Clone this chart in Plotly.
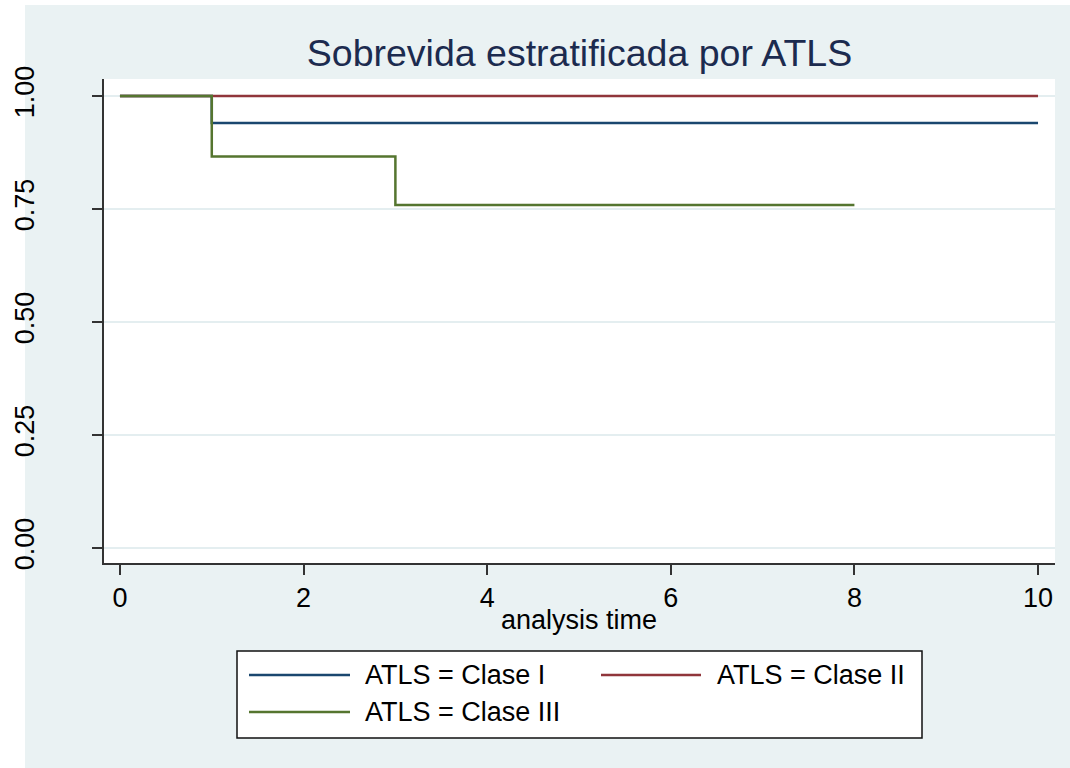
import plotly.graph_objects as go

# ---- data ----
time_I = [0, 1, 10]
surv_I = [1.0, 0.94, 0.94]
time_II = [0, 10]
surv_II = [1.0, 1.0]
time_III = [0, 1, 3, 8]
surv_III = [1.0, 0.866, 0.759, 0.759]
series_names = ["ATLS = Clase I", "ATLS = Clase II", "ATLS = Clase III"]
series_colors = ["#1a476f", "#90353b", "#55752f"]
x_ticks = [0, 2, 4, 6, 8, 10]
y_ticks = [0, 0.25, 0.5, 0.75, 1.0]
y_ticklabels = ["0.00", "0.25", "0.50", "0.75", "1.00"]
title_text = "Sobrevida estratificada por ATLS"
x_title = "analysis time"

FONT = "Liberation Sans, Arial, sans-serif"
BG = "#eaf2f3"

W, H = 1070, 768
L, R, T, B = 104, 15, 79, 205
pw, ph = W - L - R, H - T - B


def px_x(p):
    return (p - L) / pw


def px_y(p):
    return (H - B - p) / ph


fig = go.Figure()
for t, s, n, c in zip([time_I, time_II, time_III], [surv_I, surv_II, surv_III],
                      series_names, series_colors):
    fig.add_trace(go.Scatter(x=t, y=s, mode="lines", name=n,
                             line=dict(color=c, width=2.5, shape="hv"),
                             showlegend=False))

shapes = []
annotations = []
# white strip at left/top of the image (outside graph region)
shapes.append(dict(type="rect", xref="paper", yref="paper", layer="below",
                   x0=px_x(-5), x1=px_x(25), y0=px_y(H + 5), y1=px_y(-5),
                   fillcolor="white", line=dict(width=0)))
shapes.append(dict(type="rect", xref="paper", yref="paper", layer="below",
                   x0=px_x(-5), x1=px_x(W + 5), y0=px_y(5), y1=px_y(-5),
                   fillcolor="white", line=dict(width=0)))

# manual legend box
shapes.append(dict(type="rect", xref="paper", yref="paper",
                   x0=px_x(237), x1=px_x(922), y0=px_y(738), y1=px_y(651),
                   fillcolor="white", line=dict(color="#111111", width=1.5)))
legend_pos = [(249, 350, 363, 675), (601, 701, 715, 675), (249, 350, 363, 712)]
for (x0, x1, xt, yy), n, c in zip(legend_pos, series_names, series_colors):
    shapes.append(dict(type="line", xref="paper", yref="paper",
                       x0=px_x(x0), x1=px_x(x1), y0=px_y(yy), y1=px_y(yy),
                       line=dict(color=c, width=2.5)))
    annotations.append(dict(text=n, xref="paper", yref="paper", x=px_x(xt), y=px_y(yy),
                            xanchor="left", yanchor="middle", showarrow=False,
                            font=dict(family=FONT, size=27, color="#000000")))

annotations.append(dict(text=x_title, xref="paper", yref="paper", x=px_x(579), y=px_y(620),
                        xanchor="center", yanchor="middle", showarrow=False,
                        font=dict(family=FONT, size=27, color="#000000")))

fig.update_layout(
    template="none",
    width=W, height=H, autosize=False,
    margin=dict(l=L, r=R, t=T, b=B, pad=0),
    paper_bgcolor=BG, plot_bgcolor="white",
    title=dict(text=title_text, x=0.5, xref="paper", xanchor="center",
               y=1 - 53 / H, yref="container", yanchor="middle",
               font=dict(family=FONT, size=37.5, color="#1c2b4f")),
    font=dict(family=FONT, size=27, color="#000000"),
    shapes=shapes, annotations=annotations,
    xaxis=dict(range=[-0.174, 10.185], tickvals=x_ticks, ticks="outside", ticklen=10,
               tickwidth=1.5, tickcolor="#333333", showline=True, linecolor="#333333",
               linewidth=1.5, showgrid=False, zeroline=False, automargin=False,
               tickfont=dict(family=FONT, size=27, color="#000000")),
    yaxis=dict(range=[-0.033, 1.0376], tickvals=y_ticks, ticktext=y_ticklabels,
               tickangle=-90, ticks="outside", ticklen=10, tickwidth=1.5,
               tickcolor="#333333", showline=True, linecolor="#333333", linewidth=1.5,
               showgrid=True, gridcolor="#e4eef0", gridwidth=2, zeroline=False,
               automargin=False, ticklabelstandoff=47,
               tickfont=dict(family=FONT, size=27, color="#000000")),
)

fig.write_html("out.html", config={"displayModeBar": False},
               post_script="document.body.style.margin='0';document.body.style.overflow='hidden';")
